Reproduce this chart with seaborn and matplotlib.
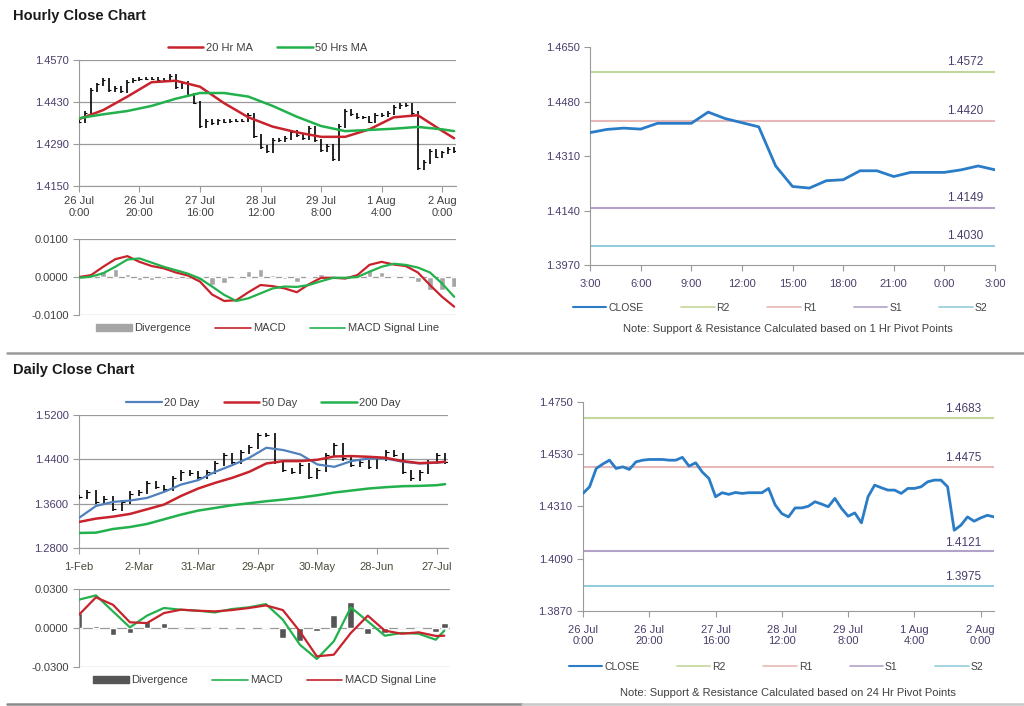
import matplotlib
matplotlib.use("Agg")
import matplotlib.pyplot as plt
import numpy as np
import pandas as pd
import seaborn as sns

# hourly close, one value every 2 hours from 26 Jul 0:00
hourly_close = [
    1.4365, 1.4393, 1.4470, 1.4489, 1.4505, 1.4470, 1.4477, 1.4466, 1.4498, 1.4505,
    1.4508, 1.4508, 1.4508, 1.4505, 1.4505, 1.4517, 1.4480, 1.4494, 1.4455, 1.4428,
    1.4351, 1.4368, 1.4361, 1.4369, 1.4365, 1.4368, 1.4368, 1.4368, 1.4386, 1.4316,
    1.4280, 1.4266, 1.4304, 1.4304, 1.4311, 1.4330, 1.4320, 1.4309, 1.4344, 1.4302,
    1.4269, 1.4283, 1.4241, 1.4351, 1.4400, 1.4389, 1.4379, 1.4379, 1.4365, 1.4386,
    1.4386, 1.4393, 1.4414, 1.4421, 1.4421, 1.4393, 1.4210, 1.4231, 1.4266, 1.4248,
    1.4262, 1.4273, 1.4266,
]
hourly_hours = list(range(0, 125, 2))

ma_hours = [0, 8, 16, 24, 32, 40, 48, 56, 64, 72, 80, 88, 96, 104, 112, 120, 124]
ma20_hr = [1.4373, 1.4403, 1.4448, 1.4496, 1.4501, 1.4481, 1.4426, 1.4379, 1.4348,
           1.4329, 1.4314, 1.4314, 1.4339, 1.4379, 1.4386, 1.4334, 1.4309]
ma50_hr = [1.4376, 1.4389, 1.4400, 1.4417, 1.4441, 1.4460, 1.4460, 1.4448, 1.4417,
           1.4381, 1.4350, 1.4333, 1.4337, 1.4341, 1.4347, 1.4339, 1.4333]

macd_hours = list(range(0, 125, 4))
macd_hr = [0.0000, 0.0005, 0.0027, 0.0047, 0.0055, 0.0040, 0.0029, 0.0023, 0.0012, 0.0004,
           -0.0012, -0.0046, -0.0063, -0.0061, -0.0040, -0.0021, -0.0024, -0.0030, -0.0040,
           -0.0019, -0.0002, -0.0002, -0.0004, 0.0005, 0.0032, 0.0040, 0.0033, 0.0029,
           0.0012, -0.0021, -0.0052, -0.0078]
signal_hr = [-0.0002, 0.0001, 0.0010, 0.0027, 0.0046, 0.0049, 0.0038, 0.0027, 0.0018, 0.0009,
             -0.0004, -0.0025, -0.0047, -0.0063, -0.0056, -0.0043, -0.0030, -0.0025, -0.0026,
             -0.0021, -0.0011, -0.0002, -0.0002, 0.0000, 0.0014, 0.0027, 0.0035, 0.0032,
             0.0025, 0.0012, -0.0017, -0.0052]
hour_ticks = [0, 20, 40, 60, 80, 100, 120]
hour_labels = ["26 Jul\n0:00", "26 Jul\n20:00", "27 Jul\n16:00", "28 Jul\n12:00",
               "29 Jul\n8:00", "1 Aug\n4:00", "2 Aug\n0:00"]

# last 24 hours, hourly
last24_close = [1.4383, 1.4393, 1.4397, 1.4394, 1.4412, 1.4412, 1.4412, 1.4447, 1.4427,
                1.4414, 1.4401, 1.4279, 1.4215, 1.4210, 1.4233, 1.4236, 1.4264, 1.4264,
                1.4246, 1.4259, 1.4259, 1.4259, 1.4267, 1.4279, 1.4267]
last24_labels = ["3:00", "6:00", "9:00", "12:00", "15:00", "18:00", "21:00", "0:00", "3:00"]
pivots_1h = {"R2": 1.4572, "R1": 1.4420, "S1": 1.4149, "S2": 1.4030}
pivots_24h = {"R2": 1.4683, "R1": 1.4475, "S1": 1.4121, "S2": 1.3975}

# daily close, one value every 3 trading days from 1-Feb
daily_close = [
    1.3722, 1.3813, 1.3632, 1.3692, 1.3511, 1.3632, 1.3783, 1.3813, 1.3964, 1.3903,
    1.3873, 1.4054, 1.4175, 1.4145, 1.4084, 1.4175, 1.4325, 1.4476, 1.4356, 1.4537,
    1.4627, 1.4838, 1.4838, 1.4356, 1.4205, 1.4175, 1.4295, 1.4084, 1.4205, 1.4476,
    1.4657, 1.4416, 1.4295, 1.4356, 1.4265, 1.4416, 1.4537, 1.4476, 1.4175, 1.4054,
    1.4175, 1.4356, 1.4476, 1.4356,
]
daily_days = list(range(0, 130, 3))

dma_days = [0, 6, 12, 18, 24, 30, 36, 42, 48, 54, 60, 66, 72, 78, 84, 90, 96, 102,
            108, 114, 120, 126, 129]
ma20_day = [1.3342, 1.3559, 1.3632, 1.3656, 1.3704, 1.3813, 1.3945, 1.4024, 1.4175,
            1.4295, 1.4428, 1.4609, 1.4567, 1.4488, 1.4307, 1.4265, 1.4368, 1.4416,
            1.4416, 1.4356, 1.4325, 1.4338, 1.4356]
ma50_day = [1.3270, 1.3330, 1.3366, 1.3415, 1.3499, 1.3584, 1.3740, 1.3873, 1.3976,
            1.4066, 1.4175, 1.4325, 1.4368, 1.4368, 1.4392, 1.4452, 1.4458, 1.4446,
            1.4428, 1.4368, 1.4331, 1.4344, 1.4356]
ma200_day = [1.3071, 1.3077, 1.3143, 1.3179, 1.3234, 1.3318, 1.3403, 1.3475, 1.3523,
             1.3572, 1.3608, 1.3644, 1.3674, 1.3710, 1.3752, 1.3801, 1.3837, 1.3873,
             1.3897, 1.3915, 1.3921, 1.3933, 1.3952]
macd_day = [0.0218, 0.0251, 0.0128, 0.0005, 0.0095, 0.0154, 0.0141, 0.0133, 0.0120,
            0.0146, 0.0159, 0.0184, 0.0064, -0.0128, -0.0238, -0.0102, 0.0159, 0.0051,
            -0.0059, -0.0038, -0.0044, -0.0090, -0.0020]
signal_day = [0.0102, 0.0236, 0.0179, 0.0044, 0.0038, 0.0115, 0.0141, 0.0133, 0.0128,
              0.0138, 0.0154, 0.0174, 0.0138, -0.0026, -0.0218, -0.0205, -0.0038, 0.0095,
              -0.0020, -0.0044, -0.0033, -0.0061, -0.0059]
day_ticks = [0, 21, 42, 63, 84, 105, 126]
day_labels = ["1-Feb", "2-Mar", "31-Mar", "29-Apr", "30-May", "28-Jun", "27-Jul"]

RED = "#c8232c"
GREEN = "#22b14c"
BLUE = "#4f81bd"
CLOSE_BLUE = "#2a7cc7"
PIVOT_COLORS = {"R2": "#c3d69b", "R1": "#e6b9b8", "S1": "#b3a2c7", "S2": "#93cddd"}
TICK_PURPLE = "#4b3d6b"
TEXT = "#404040"
GRID = "#9a9a9a"

sns.set_theme(style="white")
plt.rcParams["font.family"] = ["Liberation Sans", "DejaVu Sans"]
plt.rcParams["axes.linewidth"] = 0.8


def style_axis(ax, tick_color=TEXT, grid=True):
    for side in ["top", "right"]:
        ax.spines[side].set_visible(False)
    ax.spines["left"].set_color(GRID)
    ax.spines["bottom"].set_color(GRID)
    ax.tick_params(axis="both", direction="out", length=4, width=0.8, color=GRID,
                   labelsize=8, labelcolor=tick_color, left=True, bottom=True)
    if grid:
        ax.yaxis.grid(True, color=GRID, linewidth=0.9)
        ax.set_axisbelow(True)
    ax.set_xlabel("")
    ax.set_ylabel("")


def price_bars(ax, x, close, wick):
    prev = [close[0]] + close[:-1]
    lo = np.minimum(prev, close) - wick
    hi = np.maximum(prev, close) + wick
    ax.vlines(x, lo, hi, color="black", linewidth=1.2, zorder=3)
    step = x[1] - x[0]
    ax.hlines(close, np.array(x), np.array(x) + 0.35 * step, color="black",
              linewidth=0.8, zorder=3)


def macd_panel(ax, x, macd, signal, macd_color, signal_color, bar_color, width,
               yticks, legend_order):
    div = np.array(macd) - np.array(signal)
    ax.bar(x, div, width=width, color=bar_color, zorder=2)
    df = pd.DataFrame({"x": x, "MACD": macd, "MACD Signal Line": signal})
    sns.lineplot(data=df, x="x", y="MACD", ax=ax, color=macd_color, linewidth=1.6, zorder=3)
    sns.lineplot(data=df, x="x", y="MACD Signal Line", ax=ax, color=signal_color,
                 linewidth=1.6, zorder=3)
    ax.set_yticks(yticks)
    ax.set_yticklabels([f"{v:.4f}" for v in yticks])
    ax.set_ylim(yticks[0], yticks[-1])
    style_axis(ax)
    ax.set_xticks([])
    ax.spines["bottom"].set_visible(False)
    handles = [plt.Rectangle((0, 0), 1, 1, color=bar_color),
               plt.Line2D([], [], color=macd_color, lw=1.2),
               plt.Line2D([], [], color=signal_color, lw=1.2)]
    labels = ["Divergence", "MACD", "MACD Signal Line"]
    order = [labels.index(n) for n in legend_order]
    ax.legend([handles[i] for i in order], legend_order, loc="upper center",
              bbox_to_anchor=(0.5, 0.02), ncol=3, frameon=False, fontsize=8,
              labelcolor=TEXT, handlelength=3.2, handletextpad=0.2, columnspacing=2.2,
              handleheight=0.5)


def pivot_panel(ax, x, close, pivots, yticks, xticks, xlabels, legend_y):
    df = pd.DataFrame({"x": x, "close": close})
    sns.lineplot(data=df, x="x", y="close", ax=ax, color=CLOSE_BLUE, linewidth=2.0,
                 zorder=3)
    x_end = x[-1]
    for name, level in pivots.items():
        ax.plot([x[0], x_end], [level, level], color=PIVOT_COLORS[name], linewidth=1.5,
                zorder=2)
        ax.text(x_end - 0.03 * x_end, level + 0.0012, f"{level:.4f}", ha="right",
                va="bottom", fontsize=8.5, color=TICK_PURPLE)
    ax.set_ylim(yticks[0], yticks[-1])
    ax.set_yticks(yticks)
    ax.set_yticklabels([f"{v:.4f}" for v in yticks])
    ax.set_xlim(x[0], x_end)
    ax.set_xticks(xticks)
    ax.set_xticklabels(xlabels)
    style_axis(ax, tick_color=TICK_PURPLE, grid=False)
    ax.tick_params(axis="x", pad=6)
    handles = [plt.Line2D([], [], color=CLOSE_BLUE, lw=1.5)] + \
        [plt.Line2D([], [], color=PIVOT_COLORS[n], lw=1.2) for n in pivots]
    ax.legend(handles, ["CLOSE"] + list(pivots), loc="upper center",
              bbox_to_anchor=(0.47, legend_y), ncol=5, frameon=False, fontsize=7.5,
              labelcolor=TEXT, handlelength=3.2, handletextpad=0.2, columnspacing=3.6)


fig = plt.figure(figsize=(10.24, 7.06), dpi=100)

# ---- hourly close chart ----
ax1 = fig.add_axes([0.0771, 0.7365, 0.3682, 0.1785])
price_bars(ax1, hourly_hours, hourly_close, 0.0006)
ma_df = pd.DataFrame({"h": ma_hours, "20 Hr MA": ma20_hr, "50 Hrs MA": ma50_hr})
sns.lineplot(data=ma_df, x="h", y="20 Hr MA", ax=ax1, color=RED, linewidth=1.8,
             label="20 Hr MA", zorder=4)
sns.lineplot(data=ma_df, x="h", y="50 Hrs MA", ax=ax1, color=GREEN, linewidth=1.8,
             label="50 Hrs MA", zorder=4)
price_ticks = [1.4150, 1.4290, 1.4430, 1.4570]
ax1.set_ylim(price_ticks[0], price_ticks[-1])
ax1.set_yticks(price_ticks)
ax1.set_yticklabels([f"{v:.4f}" for v in price_ticks])
ax1.set_xlim(0, 124.6)
ax1.set_xticks(hour_ticks)
ax1.set_xticklabels(hour_labels)
style_axis(ax1, tick_color=TICK_PURPLE)
ax1.tick_params(axis="x", labelcolor=TEXT)
ax1.legend(loc="lower center", bbox_to_anchor=(0.5, 0.98), ncol=2, frameon=False,
           fontsize=8, labelcolor=TEXT, handlelength=3.2, handletextpad=0.2,
           columnspacing=2.2)

ax2 = fig.add_axes([0.0771, 0.5538, 0.3682, 0.1076])
macd_panel(ax2, macd_hours, macd_hr, signal_hr, RED, GREEN, "#a6a6a6", 1.8,
           [-0.0100, 0.0000, 0.0100], ["Divergence", "MACD", "MACD Signal Line"])
ax2.set_xlim(0, 124.6)

ax3 = fig.add_axes([0.5762, 0.6246, 0.3955, 0.3088])
pivot_panel(ax3, list(range(0, 25)), last24_close, pivots_1h,
            [1.3970, 1.4140, 1.4310, 1.4480, 1.4650],
            list(range(0, 25, 3)), last24_labels, -0.13)
fig.text(0.7695, 1 - 329 / 706, "Note: Support & Resistance Calculated based on 1 Hr Pivot Points",
         ha="center", va="center", fontsize=8, color=TEXT)

# ---- daily close chart ----
ax4 = fig.add_axes([0.0771, 0.2238, 0.3604, 0.1884])
price_bars(ax4, daily_days, daily_close, 0.004)
dma_df = pd.DataFrame({"d": dma_days, "20 Day": ma20_day, "50 Day": ma50_day,
                       "200 Day": ma200_day})
sns.lineplot(data=dma_df, x="d", y="20 Day", ax=ax4, color=BLUE, linewidth=1.6,
             label="20 Day", zorder=4)
sns.lineplot(data=dma_df, x="d", y="50 Day", ax=ax4, color=RED, linewidth=1.8,
             label="50 Day", zorder=4)
sns.lineplot(data=dma_df, x="d", y="200 Day", ax=ax4, color=GREEN, linewidth=1.8,
             label="200 Day", zorder=4)
day_price_ticks = [1.2800, 1.3600, 1.4400, 1.5200]
ax4.set_ylim(day_price_ticks[0], day_price_ticks[-1])
ax4.set_yticks(day_price_ticks)
ax4.set_yticklabels([f"{v:.4f}" for v in day_price_ticks])
ax4.set_xlim(0, 130)
ax4.set_xticks(day_ticks)
ax4.set_xticklabels(day_labels)
style_axis(ax4, tick_color=TICK_PURPLE)
ax4.tick_params(axis="x", labelcolor="#4a4a3a", pad=6)
ax4.legend(loc="lower center", bbox_to_anchor=(0.5, 0.98), ncol=3, frameon=False,
           fontsize=8, labelcolor=TEXT, handlelength=3.2, handletextpad=0.2,
           columnspacing=2.2)

ax5 = fig.add_axes([0.0771, 0.0552, 0.3623, 0.1105])
macd_panel(ax5, dma_days, macd_day, signal_day, GREEN, RED, "#555555", 2.4,
           [-0.0300, 0.0000, 0.0300], ["Divergence", "MACD", "MACD Signal Line"])
ax5.set_xlim(0, 131)

ax6 = fig.add_axes([0.5693, 0.1346, 0.4014, 0.2960])
pivot_panel(ax6, hourly_hours, hourly_close, pivots_24h,
            [1.3870, 1.4090, 1.4310, 1.4530, 1.4750],
            hour_ticks, hour_labels, -0.20)
fig.text(0.7695, 1 - 693 / 706, "Note: Support & Resistance Calculated based on 24 Hr Pivot Points",
         ha="center", va="center", fontsize=8, color=TEXT)

# section titles and separators
fig.text(13 / 1024, 1 - 16 / 706, "Hourly Close Chart", fontsize=10.5, fontweight="bold",
         color="#1a1a1a", va="center")
fig.text(13 / 1024, 1 - 370 / 706, "Daily Close Chart", fontsize=10.5, fontweight="bold",
         color="#1a1a1a", va="center")
fig.add_artist(plt.Line2D([7 / 1024, 1.0], [1 - 353 / 706] * 2, color="#9a9a9a", lw=1.8))
fig.add_artist(plt.Line2D([7 / 1024, 0.51], [1 - 704 / 706] * 2, color="#8a8a8a", lw=1.8))
fig.add_artist(plt.Line2D([0.51, 1.0], [1 - 704 / 706] * 2, color="#c8c8c8", lw=1.8))

fig.savefig("out.png", dpi=100, facecolor="white")
